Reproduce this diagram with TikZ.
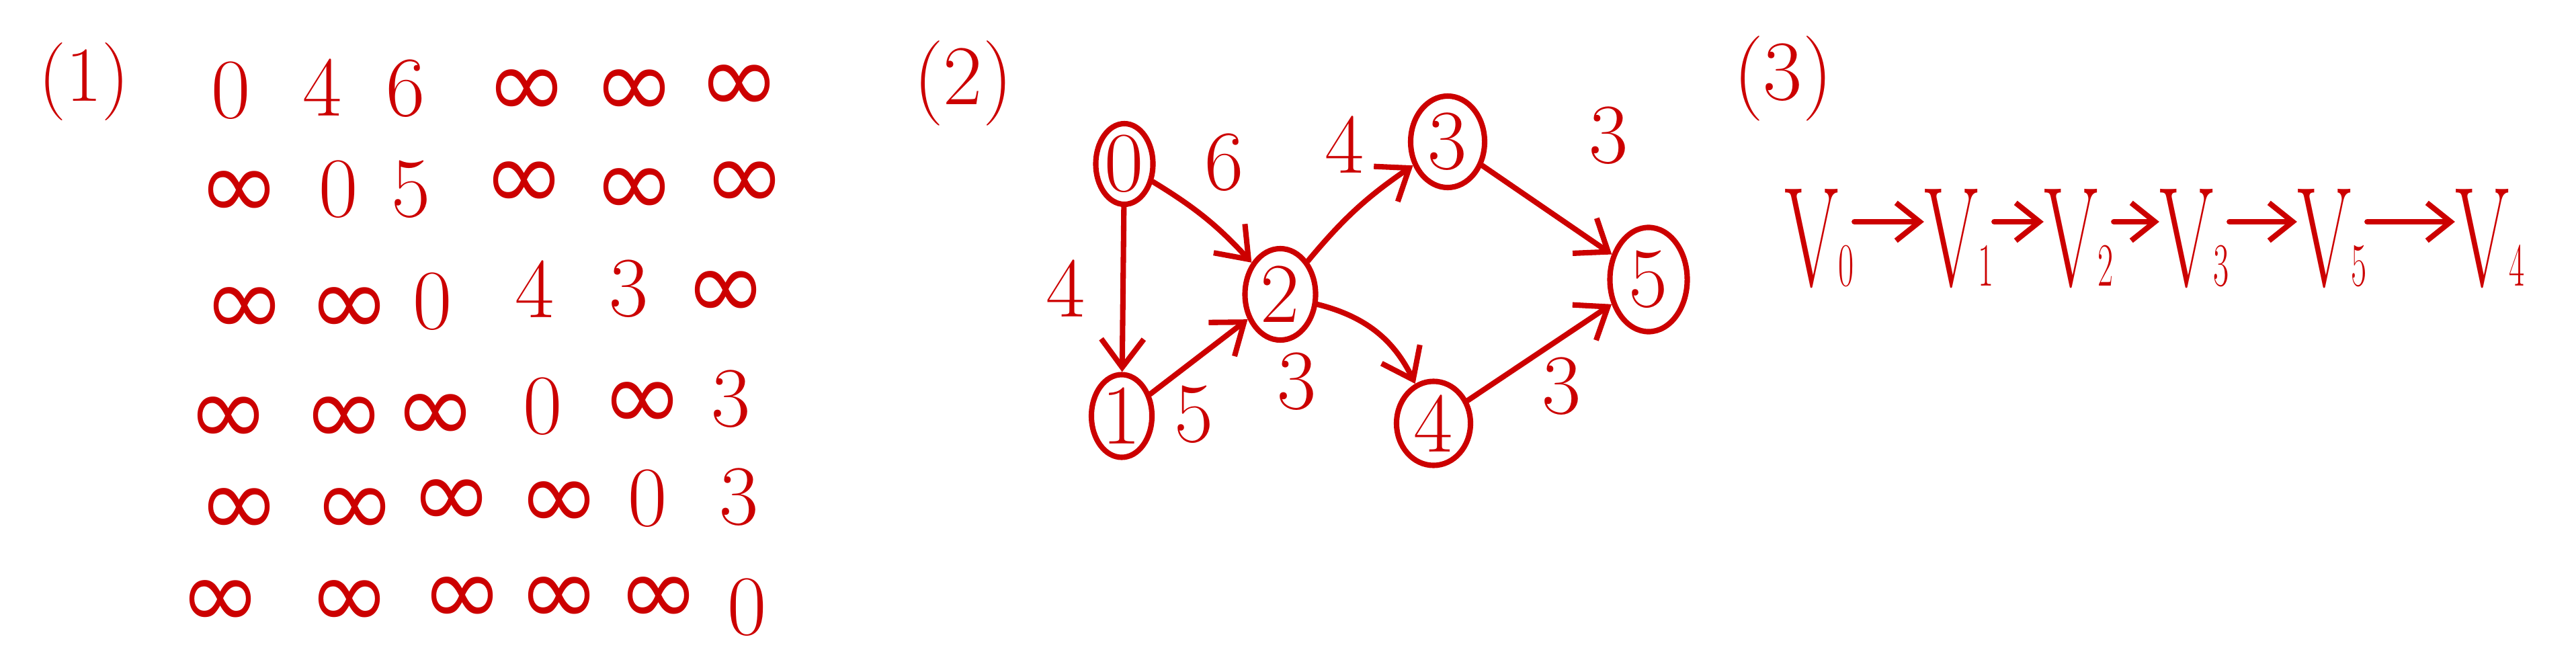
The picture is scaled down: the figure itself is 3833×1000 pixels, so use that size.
\documentclass[tikz,border=0pt]{standalone}
\usepackage{fontspec}
\newfontfamily\symf{DejaVu Sans}
\usetikzlibrary{arrows.meta,shapes.geometric}
\definecolor{ink}{RGB}{204,0,0}
\newcommand{\inft}{\raisebox{-0.5cm}{\smash{\symf\fontsize{42}{44}\selectfont ∞}}}
\newcommand{\vsub}[1]{V{\fontsize{26}{28}\selectfont #1}}
\begin{document}
\begin{tikzpicture}[x=0.01cm,y=-0.01cm,
  lbl/.style={font=\fontsize{36}{40}\selectfont, text=ink, inner sep=0pt},
  inf/.style={lbl, text height=0.31cm, text depth=0.31cm},
  big/.style={font=\fontsize{60}{64}\selectfont, text=ink, inner sep=0pt, xscale=0.55, transform shape},
  vert/.style={ellipse, draw=ink, line width=2.3pt, inner sep=-2pt, font=\fontsize{36}{40}\selectfont, text=ink},
  edge/.style={draw=ink, line width=2.3pt, line cap=round, -{Straight Barb[length=12pt,width=18pt,line width=2.3pt]}},
  seqarrow/.style={draw=ink, line width=2.3pt, line cap=round, -{Straight Barb[length=10pt,width=16pt,line width=2.3pt]}}]
\useasboundingbox (0,0) rectangle (3833,1000);

% (1) distance matrix
\node[lbl, font=\fontsize{33}{36}\selectfont] (t1) at (125,122) {(1)};
\node[lbl] (m11) at (344,135) {0};
\node[lbl] (m12) at (480,130) {4};
\node[lbl] (m13) at (604,132) {6};
\node[inf] (m14) at (784,125) {\inft};
\node[inf] (m15) at (944,125) {\inft};
\node[inf] (m16) at (1100,118) {\inft};

\node[inf] (m21) at (356,276) {\inft};
\node[lbl] (m22) at (504,282) {0};
\node[lbl] (m23) at (612,282) {5};
\node[inf] (m24) at (780,262) {\inft};
\node[inf] (m25) at (944,272) {\inft};
\node[inf] (m26) at (1108,262) {\inft};

\node[inf] (m31) at (364,449) {\inft};
\node[inf] (m32) at (520,449) {\inft};
\node[lbl] (m33) at (644,449) {0};
\node[lbl] (m34) at (796,430) {4};
\node[lbl] (m35) at (936,430) {3};
\node[inf] (m36) at (1080,425) {\inft};

\node[inf] (m41) at (340,612) {\inft};
\node[inf] (m42) at (512,612) {\inft};
\node[inf] (m43) at (648,608) {\inft};
\node[lbl] (m44) at (808,605) {0};
\node[inf] (m45) at (956,590) {\inft};
\node[lbl] (m46) at (1088,594) {3};

\node[inf] (m51) at (356,748) {\inft};
\node[inf] (m52) at (528,748) {\inft};
\node[inf] (m53) at (672,735) {\inft};
\node[inf] (m54) at (832,738) {\inft};
\node[lbl] (m55) at (964,742) {0};
\node[lbl] (m56) at (1100,740) {3};

\node[inf] (m61) at (328,885) {\inft};
\node[inf] (m62) at (520,885) {\inft};
\node[inf] (m63) at (688,880) {\inft};
\node[inf] (m64) at (832,880) {\inft};
\node[inf] (m65) at (980,880) {\inft};
\node[lbl] (m66) at (1112,904) {0};

% (2) graph
\node[lbl] (t2) at (1433,124) {(2)};
\node[vert, minimum width=0.85cm, minimum height=1.2cm] (n0) at (1673,244) {0};
\node[vert, minimum width=0.9cm, minimum height=1.23cm] (n1) at (1669,619) {1};
\node[vert, minimum width=1.05cm, minimum height=1.36cm] (n2) at (1905,438) {2};
\node[vert, minimum width=1.1cm, minimum height=1.36cm] (n3) at (2154,211) {3};
\node[vert, minimum width=1.1cm, minimum height=1.25cm] (n4) at (2133,630) {4};
\node[vert, minimum width=1.15cm, minimum height=1.55cm] (n5) at (2453,416) {5};

\draw[edge] (n0) -- (n1);
\draw[edge] (n0) to[bend left=8] (n2);
\draw[edge] (n1) -- (n2);
\draw[edge] (n2) to[bend left=8] (n3);
\draw[edge] (n2) to[bend left=25] (n4);
\draw[edge] (n3) -- (n5);
\draw[edge] (n4) -- (n5);

\node[lbl] (w01) at (1586,429) {4};
\node[lbl] (w02) at (1822,242) {6};
\node[lbl] (w23) at (2001,215) {4};
\node[lbl] (w35) at (2394,202) {3};
\node[lbl] (w12) at (1777,617) {5};
\node[lbl] (w24) at (1930,568) {3};
\node[lbl] (w45) at (2324,575) {3};

% (3) sequence
\node[lbl] (t3) at (2653,117) {(3)};
\node[big] (v0) at (2707,355) {\vsub{0}};
\node[big] (v1) at (2915,355) {\vsub{1}};
\node[big] (v2) at (3093,355) {\vsub{2}};
\node[big] (v3) at (3265,355) {\vsub{3}};
\node[big] (v5) at (3470,355) {\vsub{5}};
\node[big] (v4) at (3705,355) {\vsub{4}};
\draw[seqarrow] ([yshift=0.25cm]v0.east) -- ([yshift=0.25cm]v1.west);
\draw[seqarrow] ([yshift=0.25cm]v1.east) -- ([yshift=0.25cm]v2.west);
\draw[seqarrow] ([yshift=0.25cm]v2.east) -- ([yshift=0.25cm]v3.west);
\draw[seqarrow] ([yshift=0.25cm]v3.east) -- ([yshift=0.25cm]v5.west);
\draw[seqarrow] ([yshift=0.25cm]v5.east) -- ([yshift=0.25cm]v4.west);
\end{tikzpicture}
\end{document}
